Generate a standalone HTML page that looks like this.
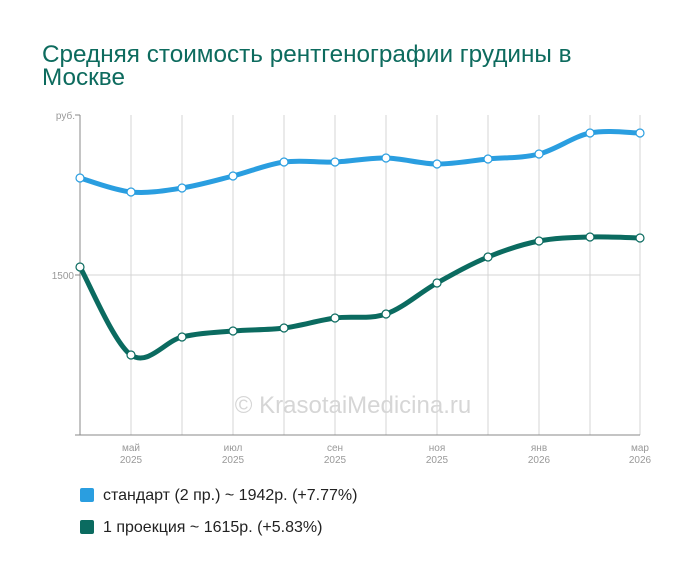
<!DOCTYPE html><html><head><meta charset="utf-8"><style>
body{margin:0;background:#fff;font-family:"Liberation Sans",sans-serif}
</style></head><body>
<svg width="700" height="578" xmlns="http://www.w3.org/2000/svg" font-family="Liberation Sans, sans-serif">
<rect width="700" height="578" fill="#fff"/>
<text x="42" y="62" font-size="24.3" fill="#0d6b5e">Средняя стоимость рентгенографии грудины в</text>
<text x="42" y="85" font-size="24.3" fill="#0d6b5e">Москве</text>
<g stroke="#d4d4d4" stroke-width="1">
<line x1="131" y1="115" x2="131" y2="435"/><line x1="182" y1="115" x2="182" y2="435"/><line x1="233" y1="115" x2="233" y2="435"/><line x1="284" y1="115" x2="284" y2="435"/><line x1="335" y1="115" x2="335" y2="435"/><line x1="386" y1="115" x2="386" y2="435"/><line x1="437" y1="115" x2="437" y2="435"/><line x1="488" y1="115" x2="488" y2="435"/><line x1="539" y1="115" x2="539" y2="435"/><line x1="590" y1="115" x2="590" y2="435"/><line x1="640" y1="115" x2="640" y2="435"/>
<line x1="80" y1="275" x2="640" y2="275"/>
</g>
<g stroke="#888" stroke-width="1"><line x1="80" y1="115" x2="80" y2="435"/><line x1="75" y1="435" x2="640" y2="435"/><line x1="75" y1="115" x2="80" y2="115"/><line x1="75" y1="275" x2="80" y2="275"/></g>
<g font-size="10" fill="#999" text-anchor="end"><text x="75" y="119">руб.</text><text x="74" y="279">1500</text></g>
<g font-size="10" fill="#999" text-anchor="middle">
<text x="131" y="451">май</text><text x="131" y="463">2025</text>
<text x="233" y="451">июл</text><text x="233" y="463">2025</text>
<text x="335" y="451">сен</text><text x="335" y="463">2025</text>
<text x="437" y="451">ноя</text><text x="437" y="463">2025</text>
<text x="539" y="451">янв</text><text x="539" y="463">2026</text>
<text x="640" y="451">мар</text><text x="640" y="463">2026</text>
</g>
<text x="353" y="413" font-size="24" fill="#d6d6d6" text-anchor="middle">© KrasotaiMedicina.ru</text>
<g id="lines" fill="none" stroke-width="5" stroke-linecap="round"></g>
<rect x="80" y="488" width="14" height="14" rx="2" fill="#2a9ee0"/>
<text x="103" y="500" font-size="16" fill="#222">стандарт (2 пр.) ~ 1942р. (+7.77%)</text>
<rect x="80" y="520" width="14" height="14" rx="2" fill="#0b6b60"/>
<text x="103" y="532" font-size="16" fill="#222">1 проекция ~ 1615р. (+5.83%)</text>
</svg>
<script>
const xs=[80,131,182,233,284,335,386,437,488,539,590,640];
const b=[178,192,188,176,162,162,158,164,159,154,133,133];
const g=[267,355,337,331,328,318,314,283,257,241,237,238];
function path(ys){const p=xs.map((x,i)=>[x,ys[i]]);let d=`M${p[0][0]},${p[0][1]}`;
for(let i=0;i<p.length-1;i++){const p0=p[i-1]||p[i],p1=p[i],p2=p[i+1],p3=p[i+2]||p2;
d+=` C${p1[0]+(p2[0]-p0[0])/6},${p1[1]+(p2[1]-p0[1])/6} ${p2[0]-(p3[0]-p1[0])/6},${p2[1]-(p3[1]-p1[1])/6} ${p2[0]},${p2[1]}`;}return d;}
const gEl=document.getElementById('lines');let h='';
[[b,'#2a9ee0'],[g,'#0b6b60']].forEach(([ys,c])=>{h+=`<path d="${path(ys)}" stroke="${c}"/>`;
xs.forEach((x,i)=>h+=`<circle cx="${x}" cy="${ys[i]}" r="4" fill="#fff" stroke="${c}" stroke-width="1.2"/>`);});
gEl.innerHTML=h;
</script>
</body></html>
